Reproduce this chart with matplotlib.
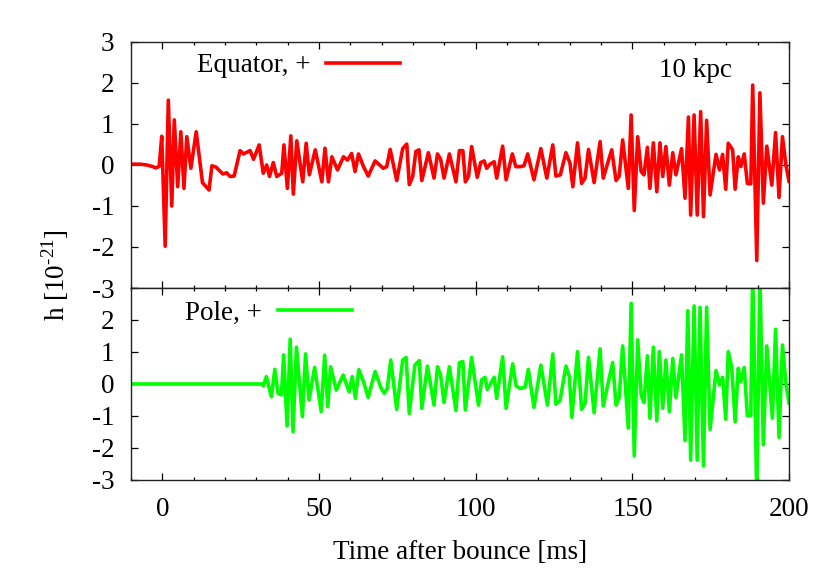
import matplotlib
matplotlib.use("Agg")
import matplotlib.pyplot as plt
from matplotlib.ticker import MultipleLocator

plt.rcParams["font.family"] = ["Liberation Serif", "DejaVu Serif"]
plt.rcParams["mathtext.fontset"] = "custom"
plt.rcParams["mathtext.rm"] = "Liberation Serif"
plt.rcParams["axes.unicode_minus"] = False

# equator signal, h_+ [1e-21] vs time after bounce [ms]
t_eq = [-10, -7, -5, -3.5, -2, -1, -0.2, 0.9, 1.9, 3.0, 3.8, 4.9, 5.9, 6.9, 7.8, 9.1,
        10.8, 12.8, 14.9, 15.8, 17.1, 19.3, 20.5, 21.6, 22.9, 24.8, 25.9, 28.0, 29.1,
        30.9, 32.2, 33.3, 34.2, 35.4, 36.5, 38.1, 38.8, 39.9, 41.0, 41.8, 42.9, 44.8,
        45.9, 46.9, 48.8, 50.9, 51.9, 53.0, 54.1, 55.9, 57.8, 59.1, 60.4, 61.5, 62.6,
        64.2, 65.7, 67.9, 70.5, 71.6, 72.7, 74.8, 76.7, 78.0, 78.8, 79.9, 80.9, 81.9,
        82.8, 84.9, 86.7, 87.8, 88.8, 89.9, 91.6, 93.7, 94.8, 95.9, 96.7, 97.7, 98.7,
        100.5, 101.6, 102.7, 103.5, 104.6, 105.9, 106.7, 108.6, 109.7, 111.7, 112.8,
        114.2, 115.4, 116.6, 118.6, 120.8, 122.7, 124.6, 125.6, 127.0, 128.8, 130.1,
        131.0, 132.5, 133.8, 134.9, 136.0, 137.8, 139.7, 140.7, 143.4, 144.8, 145.8,
        146.9, 148.7, 149.6, 150.6, 151.7, 152.8, 153.7, 154.8, 155.6, 156.7, 157.8,
        158.8, 159.7, 160.7, 161.8, 162.9, 163.9, 165.7, 166.8, 167.9, 168.6, 169.7,
        170.7, 171.8, 172.7, 173.7, 174.8, 176.7, 177.8, 178.8, 179.8, 180.6, 182.0,
        182.8, 183.8, 184.6, 185.7, 186.7, 187.8, 188.4, 189.7, 190.7, 191.8, 192.9,
        194.5, 195.7, 196.8, 197.9, 199.0, 200.0]
h_eq = [0.02, 0.02, 0.0, -0.03, -0.07, -0.03, 0.70, -1.98, 1.58, -1.0, 1.1, -0.53, 0.81,
        -0.57, 0.69, -0.08, 0.81, -0.43, -0.61, -0.02, -0.05, -0.22, -0.19, -0.28, -0.27,
        0.35, 0.27, 0.35, 0.14, 0.49, -0.2, 0.0, -0.28, 0.06, -0.28, -0.2, 0.49, -0.57,
        0.71, -0.71, 0.59, -0.41, 0.53, -0.24, 0.37, -0.41, 0.41, -0.41, 0.2, -0.12, 0.2,
        0.12, 0.28, -0.16, 0.27, -0.04, -0.27, 0.1, -0.08, -0.04, 0.38, -0.38, 0.4, 0.51,
        -0.48, -0.28, 0.33, 0.37, -0.38, 0.3, -0.32, 0.27, 0.14, -0.32, 0.27, -0.41, 0.35,
        0.35, -0.41, -0.28, 0.45, -0.3, 0.06, 0.1, -0.08, 0.02, 0.08, -0.32, 0.46, -0.36,
        0.27, -0.04, -0.04, -0.02, 0.27, -0.36, 0.4, -0.32, 0.49, -0.27, -0.24, 0.3, 0.04,
        -0.53, 0.54, -0.45, -0.32, 0.38, -0.43, 0.57, -0.32, 0.37, -0.38, -0.27, 0.61,
        -0.57, 1.22, -1.11, 0.69, -0.16, -0.24, 0.43, -0.57, 0.54, -0.65, 0.54, -0.28,
        0.45, -0.49, 0.3, -0.24, 0.4, -0.81, 1.17, -1.22, 1.22, -1.22, 1.3, -1.26, 1.09,
        -0.73, 0.26, -0.12, 0.26, -0.59, 0.53, 0.37, -0.59, 0.2, -0.04, 0.27, -0.45, -0.46,
        1.95, -2.33, 1.76, -0.93, 0.46, -0.49, 0.79, -0.79, 0.69, 0.0, -0.4]

# pole signal
t_po = [-10, 31.7, 32.2, 33.2, 34.8, 35.9, 36.9, 38.0, 38.7, 39.8, 40.8, 41.7, 42.8, 44.7,
        45.7, 46.8, 48.6, 50.7, 51.8, 52.8, 53.7, 55.5, 57.7, 59.6, 60.6, 61.6, 62.7,
        64.2, 65.7, 67.9, 69.7, 70.8, 71.8, 72.9, 74.8, 76.7, 77.8, 78.8, 80.6, 82.0,
        82.8, 84.6, 86.7, 87.8, 88.8, 89.9, 91.6, 93.7, 94.8, 95.9, 96.7, 98.7, 100.9,
        101.9, 103.0, 103.7, 105.9, 106.7, 108.6, 109.7, 111.8, 112.9, 114.2, 115.8,
        116.8, 118.6, 120.8, 122.9, 124.6, 125.6, 126.9, 128.8, 129.9, 130.7, 132.5,
        133.8, 134.9, 136.0, 137.8, 139.7, 140.7, 143.7, 144.8, 145.8, 146.9, 148.7,
        149.6, 150.6, 151.7, 152.8, 153.7, 154.8, 155.6, 156.7, 157.8, 158.6, 159.7,
        160.7, 161.8, 162.9, 163.9, 165.7, 166.8, 167.7, 168.6, 169.7, 170.7, 171.6,
        172.7, 173.7, 174.8, 176.7, 177.8, 178.8, 179.8, 180.6, 181.7, 182.8, 183.8,
        184.6, 185.7, 186.7, 187.8, 188.4, 189.7, 190.7, 191.8, 192.9, 194.7, 195.7,
        196.8, 197.9, 199.0, 200.0]
h_po = [0.0, 0.0, -0.06, 0.23, -0.4, 0.46, -0.29, -0.34, 0.91, -1.31, 1.4, -1.49, 1.15,
        -1.02, 0.94, -0.5, 0.52, -0.86, 0.9, -0.71, 0.54, -0.19, 0.28, -0.24, 0.23, -0.45,
        0.45, 0.07, -0.42, 0.39, -0.1, -0.29, -0.14, 0.75, -0.79, 0.75, 0.83, -0.92, 0.59,
        0.73, -0.76, 0.56, -0.66, 0.54, 0.28, -0.58, 0.54, -0.83, 0.67, 0.7, -0.81, 0.83,
        -0.66, 0.13, 0.21, -0.17, 0.21, -0.45, 0.85, -0.76, 0.63, -0.06, -0.14, -0.1,
        0.46, -0.73, 0.59, -0.66, 0.94, -0.63, -0.52, 0.56, 0.23, -1.04, 1.01, -0.79,
        -0.6, 0.83, -0.9, 1.1, -0.69, 0.67, -0.66, -0.42, 1.19, -1.38, 2.52, -2.25, 1.38,
        -0.34, -0.58, 0.88, -1.07, 1.15, -1.15, 1.01, -0.76, 0.75, -0.86, 0.8, -0.42,
        0.91, -1.77, 2.29, -2.38, 2.44, -2.38, 2.4, -2.56, 2.4, -1.42, 0.42, -0.03, 0.21,
        -1.1, 1.01, 0.54, -1.18, 0.49, 0.07, 0.52, -0.99, -0.99, 3.6, -3.5, 3.4, -1.9,
        1.19, -1.07, 1.71, -1.67, 1.22, 0.02, -0.6]

fs = 19.5
fig = plt.figure(figsize=(8.22, 5.76), dpi=100)
ax1 = fig.add_axes([0.1594, 0.5, 0.8005, 0.4271])
ax2 = fig.add_axes([0.1594, 0.1667, 0.8005, 0.3333])

ax1.plot(t_eq, h_eq, color="#ff0000", lw=2.6, label="Equator, +")
ax2.plot(t_po, h_po, color="#00ff00", lw=2.6, label="Pole, +")

for ax in (ax1, ax2):
    ax.set_xlim(-10, 200)
    ax.set_ylim(-3, 3)
    ax.xaxis.set_major_locator(MultipleLocator(50))
    ax.xaxis.set_minor_locator(MultipleLocator(10))
    ax.yaxis.set_major_locator(MultipleLocator(1))
    ax.tick_params(which="major", direction="in", top=True, right=True,
                   length=5, width=0.9, labelsize=fs)
    ax.tick_params(which="minor", direction="in", top=True, right=True,
                   length=2.5, width=0.9)
    ax.tick_params(axis="y", which="minor", left=False, right=False)
    ax.tick_params(axis="y", pad=12)
    ax.tick_params(axis="x", pad=12.5)
    for sp in ax.spines.values():
        sp.set_linewidth(1.0)
        sp.set_color("#222222")

ax1.tick_params(axis="x", labelbottom=False)
ax2.set_yticks([-3, -2, -1, 0, 1, 2, 3])
ax2.set_yticklabels(["-3", "-2", "-1", "0", "1", "2", ""])

ax1.legend(loc="center right", bbox_to_anchor=(0.430, 0.903), frameon=False,
           markerfirst=False, fontsize=fs, handlelength=2.73, borderpad=0,
           handletextpad=0.6)
ax2.legend(loc="center right", bbox_to_anchor=(0.357, 0.870), frameon=False,
           markerfirst=False, fontsize=fs, handlelength=2.73, borderpad=0,
           handletextpad=0.6)

ax1.text(0.857, 0.886, "10 kpc", transform=ax1.transAxes, fontsize=fs,
         ha="center", va="center")

ax2.set_xlabel("Time after bounce [ms]", fontsize=fs, labelpad=12.5)
fig.text(0.067, 0.523, r"h [10$^{\text{-21}}$]", rotation=90, fontsize=fs,
         ha="center", va="center")

fig.savefig("out.png", dpi=100)
